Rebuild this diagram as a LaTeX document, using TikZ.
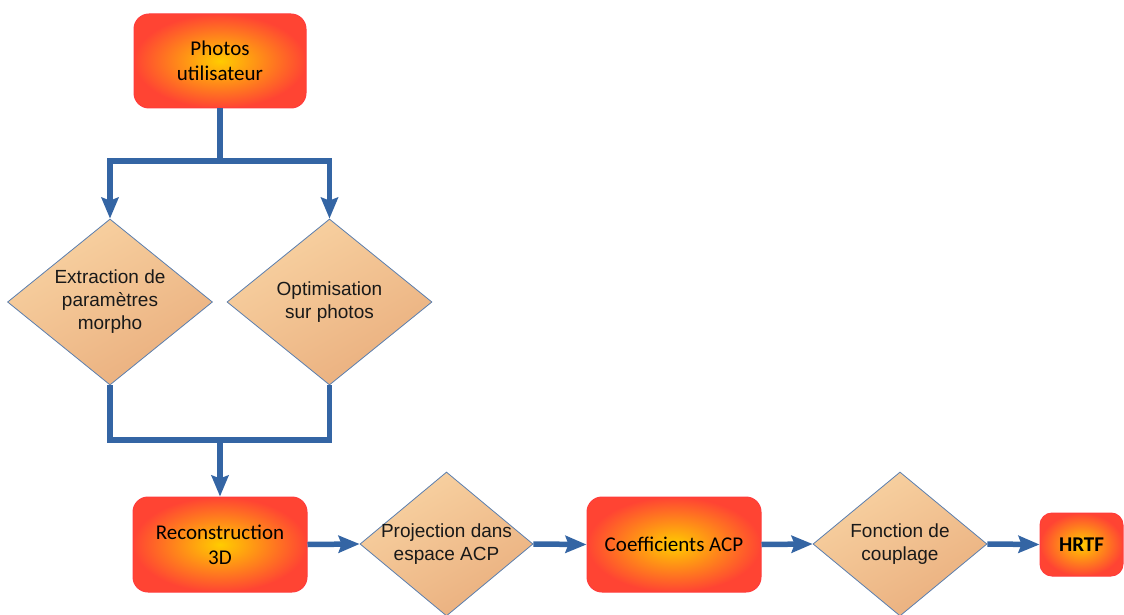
\documentclass[tikz,border=0pt]{standalone}
\usepackage{fontspec}
\setmainfont{Liberation Sans}
\newfontfamily\boxfont{Carlito}
\usetikzlibrary{shapes.geometric,arrows.meta,calc}
\definecolor{linkblue}{HTML}{3465A4}
\definecolor{boxred}{HTML}{FF4433}
\definecolor{boxyellow}{HTML}{FFCC00}
\definecolor{boxedge}{HTML}{FF3C3C}
\definecolor{diaA}{HTML}{F8D2A2}
\definecolor{diaB}{HTML}{EAAF7E}
\definecolor{diaedge}{HTML}{5A7EAE}
\begin{document}
\begin{tikzpicture}[x=1pt,y=-1pt,
  procbox/.style={rectangle,rounded corners=15pt,draw=boxedge,line width=1pt,
    inner color=boxyellow,outer color=boxred,align=center,
    font=\boxfont\fontsize{21}{25}\selectfont,text=black},
  decbox/.style={diamond,draw=diaedge,line width=0.8pt,inner sep=-25pt,
    top color=diaA,bottom color=diaB,shading angle=30,align=center,
    font=\fontsize{19}{23}\selectfont,text=black!90},
  conn/.style={draw=linkblue,line width=5.5pt,line join=miter},
  tipend/.style={-{Stealth[length=21pt,width=17pt,inset=3pt]}},
]
\useasboundingbox (0,0) rectangle (1124,615);
\node[procbox,minimum width=172pt,minimum height=94pt] (photos) at (220,61) {Photos\\utilisateur};
\node[decbox,minimum width=205pt,minimum height=166pt] (extr) at (110,302) {Extraction de\\paramètres\\morpho};
\node[decbox,minimum width=205pt,minimum height=166pt] (optim) at (329.5,302) {Optimisation\\sur photos};
\node[procbox,minimum width=174pt,minimum height=95pt] (recon) at (220,544.5) {Reconstruction\\3D};
\node[decbox,minimum width=173pt,minimum height=144pt] (proj) at (446.5,544) {Projection dans\\espace ACP};
\node[procbox,minimum width=174pt,minimum height=95pt] (coef) at (674,544.5) {Coefficients ACP};
\node[decbox,minimum width=174pt,minimum height=144pt] (fonc) at (900,544) {Fonction de\\couplage};
\node[procbox,rounded corners=12pt,minimum width=83pt,minimum height=63pt,font=\boxfont\bfseries\fontsize{21}{25}\selectfont] (hrtf) at (1081.5,544.5) {HRTF};

\coordinate (fork) at (220,161);
\coordinate (merge) at (220,440);
\draw[conn] (photos.south) -- (fork);
\draw[conn,{Stealth[length=21pt,width=17pt,inset=3pt]}-{Stealth[length=21pt,width=17pt,inset=3pt]}] (extr.north) |- (fork) -| (optim.north);
\draw[conn] (extr.south) -- (extr.south |- merge) -- (optim.south |- merge) -- (optim.south);
\draw[conn,tipend] (merge) -- (recon.north);
\draw[conn,tipend] (recon.east) -- (proj.west);
\draw[conn,tipend] (proj.east) -- (coef.west);
\draw[conn,tipend] (coef.east) -- (fonc.west);
\draw[conn,tipend] (fonc.east) -- (hrtf.west);
\end{tikzpicture}
\end{document}
